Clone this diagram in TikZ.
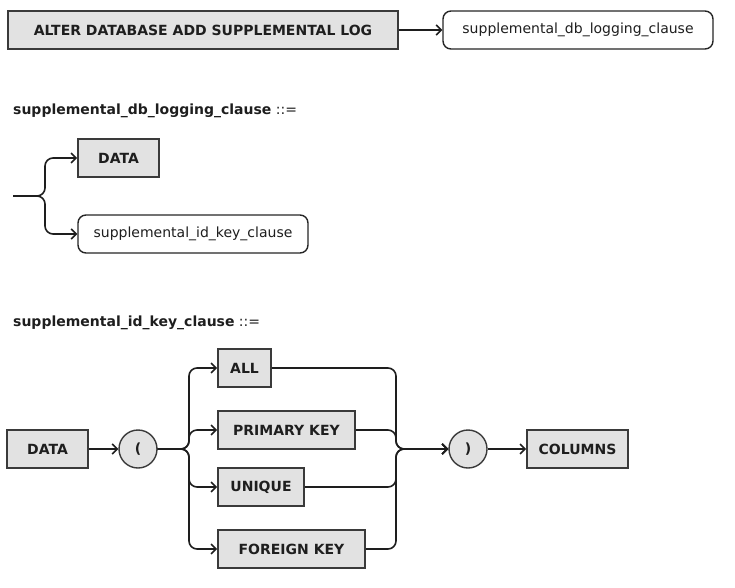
\documentclass[tikz,border=0pt]{standalone}
\usepackage{fontspec}
\setmainfont{DejaVu Sans}
\usetikzlibrary{arrows.meta}
\definecolor{boxgray}{HTML}{E2E2E2}
\definecolor{edgegray}{HTML}{3A3A3A}
\definecolor{inkgray}{HTML}{1E1E1E}
\begin{document}
\begin{tikzpicture}[x=1pt,y=-1pt,
  kw/.style={draw=edgegray,fill=boxgray,text=inkgray,line width=1.6pt,minimum height=38pt,inner sep=0pt,font=\fontsize{14}{16}\selectfont\bfseries},
  ref/.style={draw=black!85,fill=white,text=inkgray,rounded corners=8pt,line width=1.4pt,minimum height=38pt,inner sep=0pt,font=\fontsize{14}{16}\selectfont},
  paren/.style={circle,draw=edgegray,fill=boxgray,text=inkgray,line width=1.4pt,minimum size=38pt,inner sep=0pt,font=\fontsize{14}{16}\selectfont\bfseries},
  hdr/.style={anchor=west,inner sep=0pt,text=inkgray,font=\fontsize{14}{16}\selectfont},
  conn/.style={draw=inkgray,line width=1.6pt,rounded corners=8pt},
  >={Straight Barb[length=5pt,width=10pt]}]
\useasboundingbox (0,0) rectangle (735,587);
% statement
\node[kw,minimum width=390pt] (alter) at (203,30) {ALTER DATABASE ADD SUPPLEMENTAL LOG};
\node[ref,minimum width=270pt] (dblog) at (578,30) {supplemental\_db\_logging\_clause};
\draw[conn,->] (alter.east) -- (dblog.west);
% supplemental_db_logging_clause
\node[hdr] (hdrdb) at (13,111) {\textbf{supplemental\_db\_logging\_clause} ::=};
\node[kw,minimum width=81pt] (data1) at (118.5,158) {DATA};
\node[ref,minimum width=230pt] (idkey) at (193,234) {supplemental\_id\_key\_clause};
\coordinate (in2) at (13,196);
\coordinate (sp2) at (45,196);
\draw[conn,->] (in2) -- (sp2) |- (data1.west);
\draw[conn,->] (in2) -- (sp2) |- (idkey.west);
% supplemental_id_key_clause
\node[hdr] (hdrid) at (13,323) {\textbf{supplemental\_id\_key\_clause} ::=};
\node[kw,minimum width=81pt] (data2) at (47.5,449) {DATA};
\node[paren] (lpar) at (138,449) {(};
\node[kw,minimum width=53pt] (all) at (244.5,368) {ALL};
\node[kw,minimum width=137pt] (pk) at (286.5,430) {PRIMARY KEY};
\node[kw,minimum width=86pt] (uniq) at (261,487) {UNIQUE};
\node[kw,minimum width=147pt] (fk) at (291.5,549) {FOREIGN KEY};
\node[paren] (rpar) at (468,449) {)};
\node[kw,minimum width=101pt] (cols) at (577.5,449) {COLUMNS};
\coordinate (sp3) at (189,449);
\coordinate (jn3) at (396,449);
\draw[conn,->] (data2.east) -- (lpar.west);
\draw[conn,->] (lpar.east) -- (sp3) |- (all.west);
\draw[conn,->] (lpar.east) -- (sp3) |- (pk.west);
\draw[conn,->] (lpar.east) -- (sp3) |- (uniq.west);
\draw[conn,->] (lpar.east) -- (sp3) |- (fk.west);
\draw[conn,->] (all.east) -| (jn3) -- (rpar.west);
\draw[conn,->] (pk.east) -| (jn3) -- (rpar.west);
\draw[conn,->] (uniq.east) -| (jn3) -- (rpar.west);
\draw[conn,->] (fk.east) -| (jn3) -- (rpar.west);
\draw[conn,->] (rpar.east) -- (cols.west);
\end{tikzpicture}
\end{document}
